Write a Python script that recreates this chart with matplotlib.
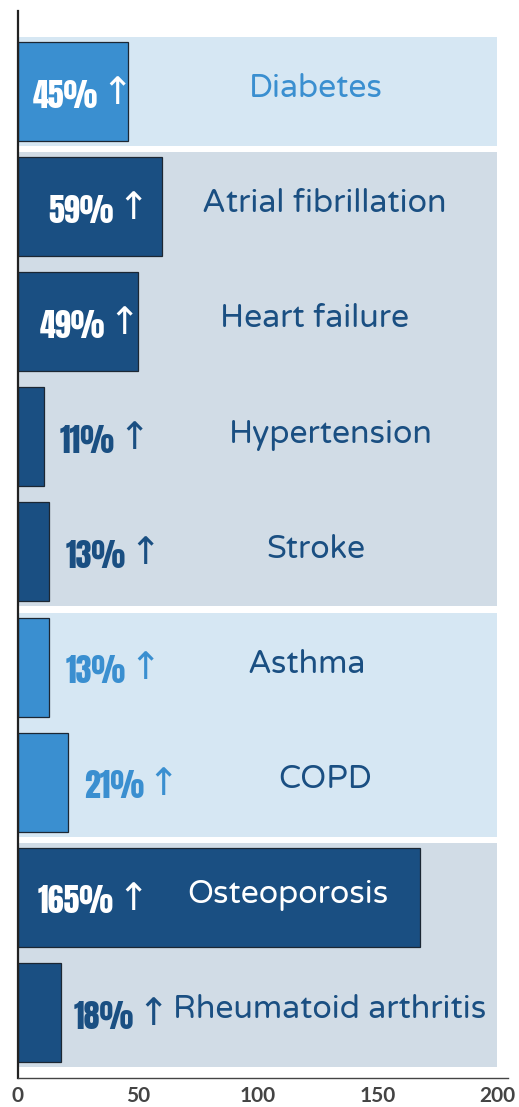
import os
import matplotlib
matplotlib.use("Agg")
import matplotlib.pyplot as plt
from matplotlib import font_manager as fm

# data
cats = ["Diabetes", "Atrial fibrillation", "Heart failure", "Hypertension", "Stroke",
        "Asthma", "COPD", "Osteoporosis", "Rheumatoid arthritis"]
vals = [46, 60, 50, 11, 13, 13, 21, 168, 18]
pct = ["45%", "59%", "49%", "11%", "13%", "13%", "21%", "165%", "18%"]
groups = [[0], [1, 2, 3, 4], [5, 6], [7, 8]]
light = [True, False, False, False, False, True, True, False, False]

# layout (data x positions of labels)
pct_x = [33.4, 40.1, 36.3, 40.5, 44.9, 44.9, 52.6, 40.1, 48.4]
cat_x = [124.4, 127.8, 124.0, 130.7, 124.4, 120.3, 128.2, 112.7, 130.3]
inside = [True, True, True, False, False, False, False, True, False]

DARK = "#1A4F82"; LIGHT = "#3A8FD0"
BAND_L = "#D6E7F3"; BAND_D = "#D1DCE6"

def pick(names, weight):
    for n in names:
        for f in fm.fontManager.ttflist:
            w = f.weight if isinstance(f.weight, int) else fm.weight_dict.get(f.weight, 400)
            if f.name == n and w == weight and "[" not in os.path.basename(f.fname):
                return n
    return None

PCT_FONT, PCT_W, PCT_SIZE = "Oswald", "bold", 25
if pick(["Oswald"], 700) is None:
    if pick(["Anton"], 400):
        PCT_FONT, PCT_W, PCT_SIZE = "Anton", "normal", 23
    else:
        PCT_FONT, PCT_W, PCT_SIZE = pick(["Roboto Condensed", "Barlow Condensed"], 700) or "DejaVu Sans", "bold", 30
CAT_FONT = pick(["Nunito", "Nunito Sans", "Varela Round", "Lato", "Open Sans"], 400) or "DejaVu Sans"
TICK_FONT = pick(["Nunito", "Nunito Sans", "Lato", "Open Sans"], 700) or "DejaVu Sans"

fig = plt.figure(figsize=(5.19, 11.07), dpi=100)
ax = fig.add_axes([18/519, 1 - 1078/1107, 490/519, 1067/1107])
ax.set_xlim(0, 204.6)
ax.set_ylim(8.569, -0.699)

# background bands
for g in groups:
    top, bot = g[0] - 0.473, g[-1] + 0.473
    ax.barh((top + bot) / 2, 200, height=bot - top, left=0,
            color=BAND_L if light[g[0]] else BAND_D, zorder=0)

ys = list(range(len(cats)))
ax.barh(ys, vals, height=0.86, color=[LIGHT if l else DARK for l in light],
        edgecolor="#1c2733", linewidth=0.9, zorder=2)

for i in ys:
    pc = "white" if inside[i] else (LIGHT if light[i] else DARK)
    cc = "white" if i == 7 else (LIGHT if i == 0 else DARK)
    ax.text(pct_x[i], i + 0.14, pct[i], ha="right", va="baseline", color=pc,
            fontsize=PCT_SIZE, fontweight=PCT_W, family=PCT_FONT, zorder=3)
    ax.annotate("↑", (pct_x[i], i + 0.02), xytext=(2.5, 0), textcoords="offset points",
                ha="left", va="center", color=pc, fontsize=27,
                family=["DejaVu Sans"], zorder=3)
    ax.text(cat_x[i], i + 0.05, cats[i], ha="center", va="baseline", color=cc,
            fontsize=23, family=CAT_FONT, zorder=3)

for s in ["top", "right"]:
    ax.spines[s].set_visible(False)
ax.spines["left"].set_color("#222222"); ax.spines["left"].set_linewidth(1.6)
ax.spines["bottom"].set_color("#444444"); ax.spines["bottom"].set_linewidth(1.0)
ax.set_yticks([])
ax.set_xticks([0, 50, 100, 150, 200])
ax.tick_params(axis="x", length=0, pad=6, labelsize=15, labelcolor="#444444")
for t in ax.get_xticklabels():
    t.set_fontfamily(TICK_FONT); t.set_fontweight("bold")

fig.savefig("out.png")
